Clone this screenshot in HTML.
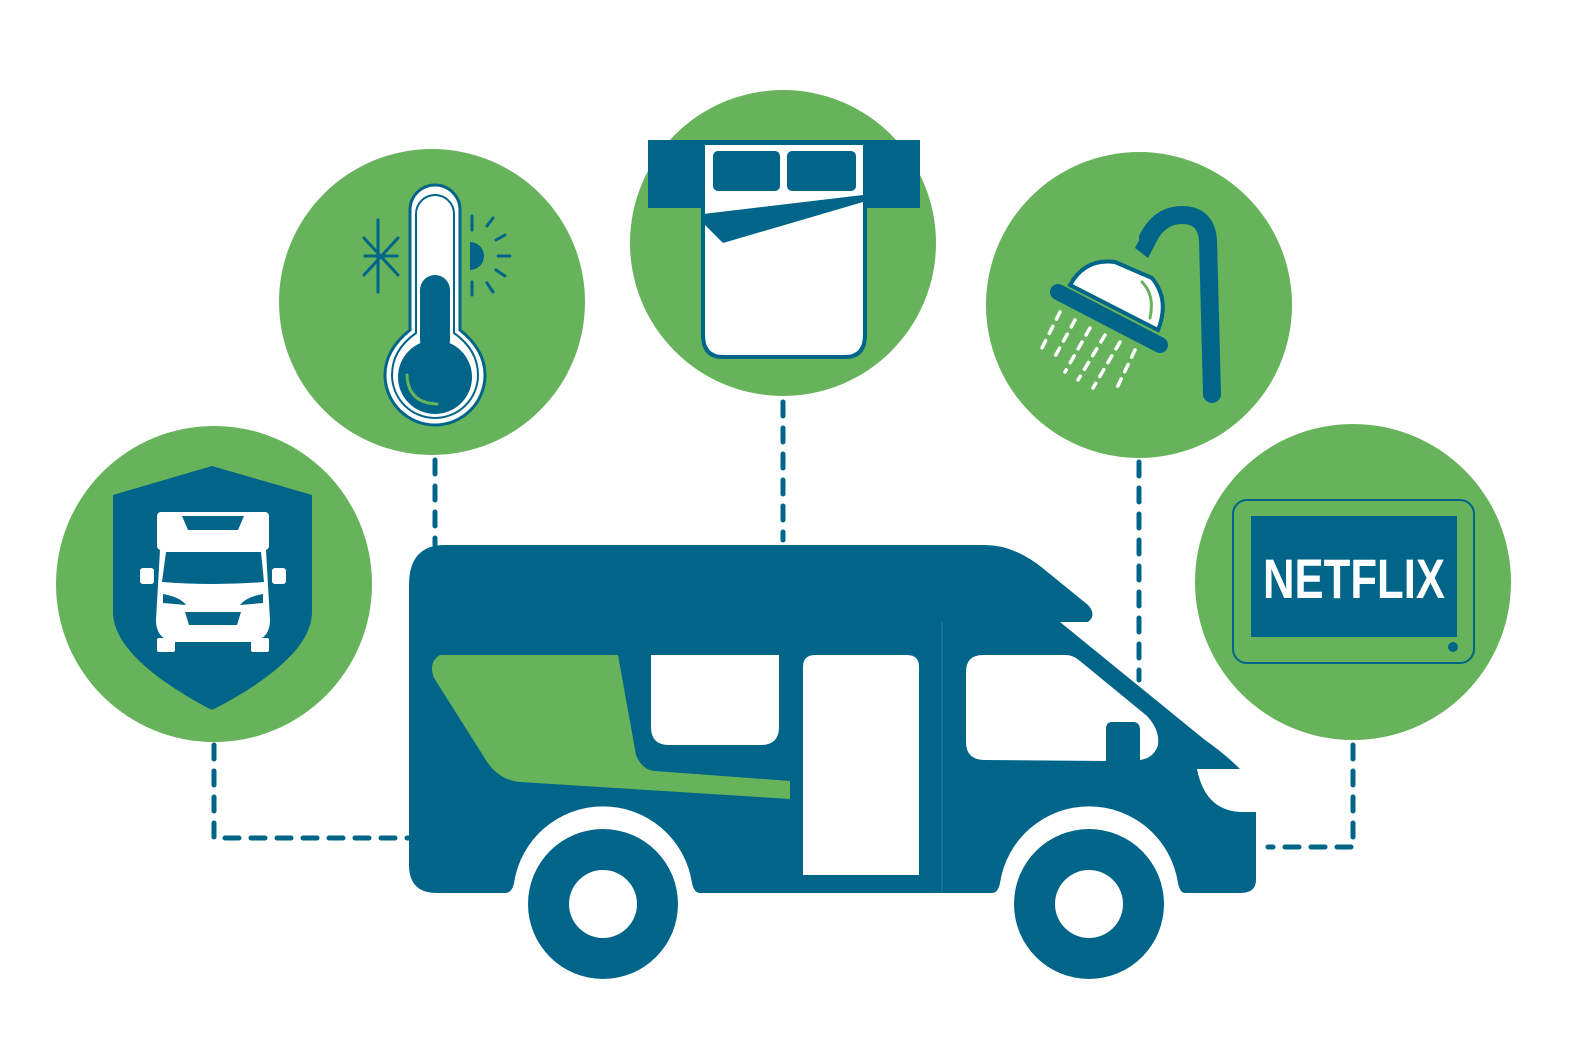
<!DOCTYPE html>
<html><head><meta charset="utf-8"><style>html,body{margin:0;padding:0;background:#fff}svg{display:block}</style></head>
<body>
<svg width="1592" height="1039" viewBox="0 0 1592 1039" xmlns="http://www.w3.org/2000/svg">
<defs><style>.d{fill:none;stroke:#006589;stroke-width:5;stroke-dasharray:14 12;stroke-linecap:round}</style></defs>
<!-- connectors -->
<path class="d" d="M214 745 V838 H410"/>
<path class="d" d="M435 460 V545"/>
<path class="d" d="M783 402 V540"/>
<path class="d" d="M1139 462 V680"/>
<path class="d" d="M1353 745 V847 H1268"/>
<!-- circles -->
<g fill="#67b35c">
<circle cx="214" cy="584" r="158"/>
<circle cx="432" cy="302" r="153"/>
<circle cx="783" cy="243" r="153"/>
<circle cx="1139" cy="305" r="153"/>
<circle cx="1353" cy="582" r="158"/>
</g>
<!-- shield -->
<path d="M113 495 L212 466 L312 495 V612 C312 650 260 685 216 708 Q212 711 208 708 C165 685 113 650 113 612 Z" fill="#006589"/>
<g fill="#fff">
<rect x="157" y="512" width="112" height="38" rx="4"/>
<path d="M160 550 H266 L270 620 Q270 640 250 642 H176 Q156 640 156 620 Z"/>
<rect x="140" y="568" width="14" height="16" rx="3"/><rect x="272" y="568" width="14" height="16" rx="3"/>
<rect x="157" y="638" width="18" height="14" rx="2"/><rect x="251" y="638" width="18" height="14" rx="2"/>
</g>
<g fill="#006589">
<path d="M182 516 H244 L238 530 H188 Z"/>
<path d="M166 552 H261 L264 582 Q213 586 162 582 Z"/>
<path d="M185 612 H241 L237 625 H189 Z"/>
<path d="M163 594 Q180 597 186 605 L163 603 Z"/><path d="M263 594 Q246 597 240 605 L263 603 Z"/>
</g>
<!-- thermometer -->
<path d="M410 210 A25 25 0 0 1 460 210 V330 Q485 350 485 375 A50 50 0 0 1 385 375 Q385 350 410 330 Z" fill="#fff" stroke="#006589" stroke-width="3"/>
<path d="M416 214 A19 19 0 0 1 454 214 V333 Q478 350 478 375 A43 43 0 0 1 392 375 Q392 350 416 333 Z" fill="none" stroke="#006589" stroke-width="2"/>
<rect x="420" y="275" width="30" height="80" rx="15" fill="#006589"/>
<circle cx="435" cy="377" r="37" fill="#006589"/>
<path d="M407 375 Q408 403 437 404" fill="none" stroke="#67b35c" stroke-width="3" stroke-linecap="round"/>
<g stroke="#006589" stroke-width="3" stroke-linecap="round" fill="none">
<path d="M378 220 V292 M364 238 L398 275 M364 275 L398 238 M365 256 H397"/>
<path d="M472 216 V230 M472 282 V295 M487 226 L493 218 M487 283 L493 292 M496 240 L505 235 M496 270 L505 276 M498 256 H510"/>
</g>
<path d="M470 242 A14 14 0 0 1 470 270 Z" fill="#006589"/>
<!-- bed -->
<rect x="648" y="140" width="272" height="68" fill="#006589"/>
<path d="M703 143 H865 V335 Q865 357 845 357 H723 Q703 357 703 335 Z" fill="#fff" stroke="#006589" stroke-width="4"/>
<rect x="713" y="151" width="67" height="40" rx="5" fill="#006589"/>
<rect x="787" y="151" width="69" height="40" rx="5" fill="#006589"/>
<path d="M703 214 L863 195 V202 L723 243 L703 223 Z" fill="#006589"/>
<!-- shower -->
<path d="M1212 394 L1208 240 Q1206 215 1182 215 Q1160 215 1148 238" fill="none" stroke="#006589" stroke-width="18" stroke-linecap="round"/>
<path d="M1147 225 L1160 235 L1148 258 L1135 248 Z" fill="#006589"/>
<path d="M1070 285 Q1085 258 1115 262 L1152 278 Q1170 300 1158 330 Z" fill="#fff" stroke="#006589" stroke-width="4"/>
<path d="M1058 292 L1160 345" stroke="#006589" stroke-width="16" stroke-linecap="round"/>
<path d="M1142 282 Q1155 295 1150 318" fill="none" stroke="#67b35c" stroke-width="3" stroke-linecap="round"/>
<g stroke="#fff" stroke-width="3.5" stroke-linecap="round" stroke-dasharray="8 8">
<path d="M1060 312 L1040 352 M1075 320 L1052 362 M1090 328 L1065 372 M1105 335 L1078 380 M1120 342 L1093 388 M1135 350 L1115 392"/>
</g>
<!-- netflix -->
<rect x="1233" y="500" width="241" height="163" rx="14" fill="none" stroke="#006589" stroke-width="2"/>
<rect x="1251" y="516" width="206" height="121" fill="#006589"/>
<text x="1354" y="598" text-anchor="middle" font-family="Liberation Sans, sans-serif" font-weight="bold" font-size="56" fill="#fff" textLength="182" lengthAdjust="spacingAndGlyphs">NETFLIX</text>
<circle cx="1453" cy="647" r="5" fill="#006589"/>
<!-- van -->
<path d="M445 545 H985 Q1015 545 1045 570 L1088 605 Q1097 615 1088 622 H1060 L1205 740 Q1225 754 1240 769 H1197 Q1205 810 1240 812 H1256 V880 Q1256 893 1240 893 H1185 Q1180 893 1178 883 A90 90 0 0 0 1000 883 Q998 893 992 893 H700 Q694 893 692 883 A90 90 0 0 0 514 883 Q512 893 505 893 H437 Q409 893 409 865 V585 Q409 545 445 545 Z" fill="#006589"/>
<line x1="942" y1="622" x2="942" y2="893" stroke="#1f7499" stroke-width="1.5"/>
<path d="M440 655 H618 L636 755 Q642 770 655 771 L790 781 V799 L520 782 Q497 780 484 757 L434 678 Q428 662 440 655 Z" fill="#67b35c"/>
<path d="M651 655 H779 V727 Q779 745 761 745 H669 Q651 745 651 727 Z" fill="#fff"/>
<path d="M803 667 Q803 655 815 655 H907 Q919 655 919 667 V875 H803 Z" fill="#fff"/>
<path d="M966 672 Q966 655 983 655 H1066 Q1073 655 1080 661 L1147 716 Q1160 730 1158 745 Q1154 758 1140 760 V730 Q1140 722 1133 722 H1112 Q1106 722 1106 729 V761 L985 760 Q966 760 966 742 Z" fill="#fff"/>
<circle cx="603" cy="904" r="75" fill="#006589"/><circle cx="603" cy="904" r="34" fill="#fff"/>
<circle cx="1089" cy="904" r="75" fill="#006589"/><circle cx="1089" cy="904" r="34" fill="#fff"/>
</svg>
</body></html>
